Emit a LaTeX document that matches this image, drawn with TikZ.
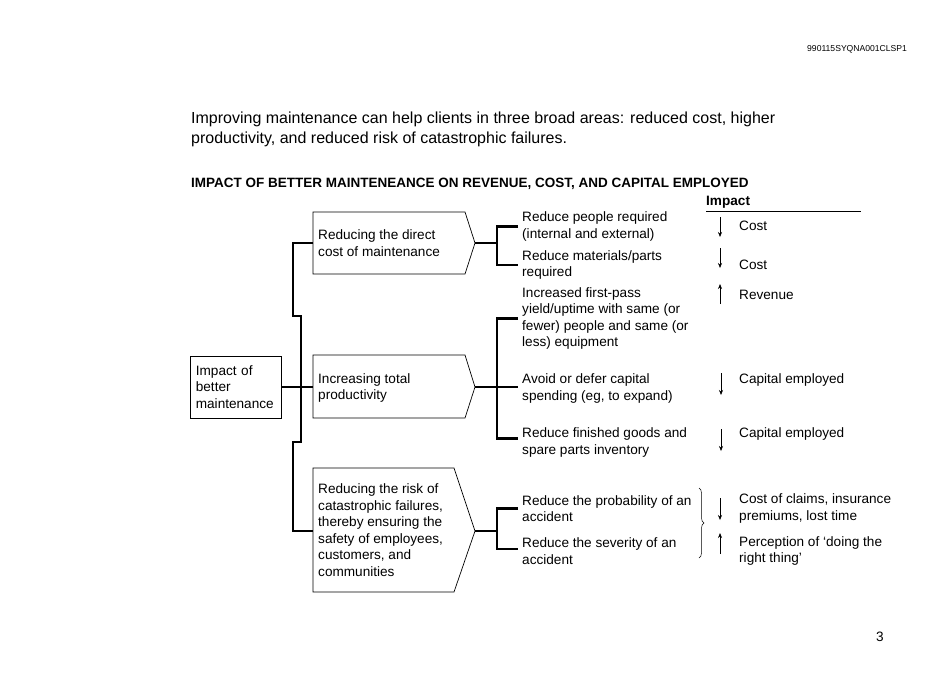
\documentclass[tikz,border=0pt]{standalone}
\usepackage{fontspec}
\setmainfont{Liberation Sans}
\usetikzlibrary{arrows.meta}
\usetikzlibrary{decorations.pathreplacing}

\begin{document}
\begin{tikzpicture}[x=1pt,y=-1pt,
  txt/.style={anchor=west,align=left,inner sep=0pt,font=\fontsize{13.6}{16.5}\selectfont},
  tree/.style={line width=2.2pt},
  box/.style={line width=0.7pt},
  imp/.style={line width=0.6pt,-{Stealth[length=5pt,width=4pt]}}]
\useasboundingbox (0,0) rectangle (950,673);

% page header
\node[anchor=west,inner sep=0pt,font=\fontsize{8.6}{10}\selectfont] (code) at (807,49) {990115SYQNA001CLSP1};
\node[txt,font=\fontsize{16}{19.5}\selectfont] (intro) at (191,129.5) {Improving maintenance can help clients in three broad areas: reduced cost, higher\\productivity, and reduced risk of catastrophic failures.};
\node[txt,font=\bfseries\fontsize{13.5}{16}\selectfont] (head) at (191,184) {IMPACT OF BETTER MAINTENEANCE ON REVENUE, COST, AND CAPITAL EMPLOYED};
\node[txt,font=\bfseries\fontsize{13.6}{16}\selectfont] (imphead) at (706,202) {Impact};
\draw[box] (706,211) -- (861,211);

% root box
\node[draw,box,txt,text width=80pt,inner xsep=5.5pt,minimum height=62pt] (root) at (190,387) {Impact of\\better\\maintenance};

% the three arrow boxes
\draw[box] (313,212) -- (465,212) -- (475,243) coordinate (b1tip) -- (465,274) -- (313,274) -- cycle;
\draw[box] (313,355) -- (465,355) -- (475,387) coordinate (b2tip) -- (465,418) -- (313,418) -- cycle;
\draw[box] (313,468) -- (454,468) -- (475,531) coordinate (b3tip) -- (454,592) -- (313,592) -- cycle;
\coordinate (b1w) at (313,243);
\coordinate (b2w) at (313,387);
\coordinate (b3w) at (313,531);
\node[txt] (b1) at (318,243) {Reducing the direct\\cost of maintenance};
\node[txt] (b2) at (318,388) {Increasing total\\productivity};
\node[txt] (b3) at (318,530) {Reducing the risk of\\catastrophic failures,\\thereby ensuring the\\safety of employees,\\customers, and\\communities};

% levers
\node[txt] (i1) at (522,226.5) {Reduce people required\\(internal and external)};
\node[txt] (i2) at (522,265) {Reduce materials/parts\\required};
\node[txt] (i3) at (522,318.5) {Increased first-pass\\yield/uptime with same (or\\fewer) people and same (or\\less) equipment};
\node[txt] (i4) at (522,388.5) {Avoid or defer capital\\spending (eg, to expand)};
\node[txt] (i5) at (522,442.5) {Reduce finished goods and\\spare parts inventory};
\node[txt] (i6) at (522,508.5) {Reduce the probability of an\\accident};
\node[txt] (i7) at (522,551) {Reduce the severity of an\\accident};

% impact column
\node[txt] (c1) at (739,226) {Cost};
\node[txt] (c2) at (739,265) {Cost};
\node[txt] (c3) at (739,295) {Revenue};
\node[txt] (c4) at (739,380) {Capital employed};
\node[txt] (c5) at (739,434) {Capital employed};
\node[txt] (c6) at (739,508.5) {Cost of claims, insurance\\premiums, lost time};
\node[txt] (c7) at (739,551) {Perception of `doing the\\right thing'};

% tree, left side
\draw[tree] (root.east) -- (b2w);
\draw[tree] (b1w) -- (293,243) -- (293,316) -- (301,316) -- (301,442) -- (293,442) -- (293,531) -- (b3w);

% tree, right side
\draw[tree] (b1tip) -- (497,243);
\draw[tree] ([xshift=-4pt]i1.west) -| (497,243) |- ([xshift=-4pt]i2.west);
\draw[tree] (b2tip) -- ([xshift=-4pt,yshift=1.5pt]i4.west);
\draw[tree] ([xshift=-4pt]i3.west) -| (497,387) |- ([xshift=-4pt,yshift=4pt]i5.west);
\draw[tree] (b3tip) -- (497,531);
\draw[tree] ([xshift=-4pt]i6.west) -| (497,531) |- ([xshift=-4pt,yshift=2pt]i7.west);

% up/down marks
\draw[imp] (720,217) -- (720,237);
\draw[imp] (720,248) -- (720,268);
\draw[imp] (720,304) -- (720,284);
\draw[imp] (721,373) -- (721,395);
\draw[imp] (721,429) -- (721,451);
\draw[imp] (720,498) -- (720,520);
\draw[imp] (720,554) -- (720,533);

% brace over the two risk levers
\draw[box,line width=0.5pt,decorate,decoration={brace,amplitude=5pt}] (699,488) -- (699,558);

\node[anchor=west,inner sep=0pt,font=\fontsize{13.6}{16}\selectfont] (page) at (876,637) {3};
\end{tikzpicture}
\end{document}
